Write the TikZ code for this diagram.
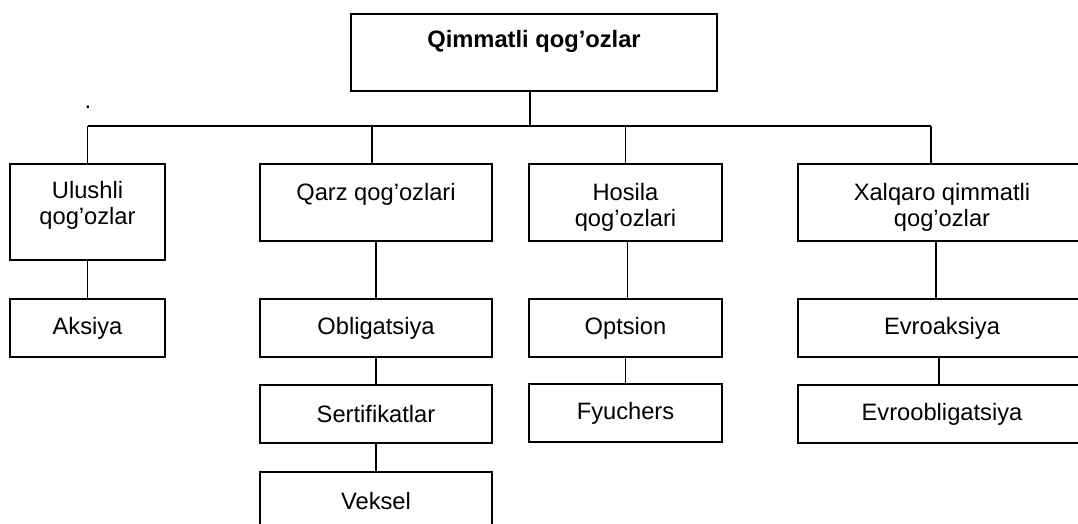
\documentclass[tikz,border=0pt]{standalone}
\usepackage{fontspec}
\setmainfont{Liberation Sans}
\begin{document}
\begin{tikzpicture}[x=1pt,y=-1pt,
  every node/.style={inner sep=0pt,outer sep=0pt,font=\fontsize{23.7}{26}\selectfont},
  box/.style={draw,line width=1.8pt,align=center},
  lvlA/.style={box,minimum height=77pt},
  lvlB/.style={box,minimum height=58pt},
  conn/.style={line width=1.8pt}]
\path[use as bounding box,clip] (0,0) rectangle (1078,524);
% top
\node[lvlA,minimum width=366pt,font=\fontsize{23.7}{26}\selectfont\bfseries] (top) at (534,52.5) {Qimmatli qog’ozlar\\[-6pt]\strut};
% level 1
\node[box,minimum width=155pt,minimum height=96pt] (ulushli) at (87.5,212) {Ulushli\\qog’ozlar\\[-16pt]\strut};
\node[lvlA,minimum width=232pt] (qarz) at (376,202.5) {Qarz qog’ozlari\\[-12pt]\strut};
\node[lvlA,minimum width=193pt] (hosila) at (625.5,202.5) {\strut\\[-17pt]Hosila\\qog’ozlari};
\node[lvlA,minimum width=288pt] (xalq) at (942,202.5) {\strut\\[-17pt]Xalqaro qimmatli\\qog’ozlar};
% level 2
\node[lvlB,minimum width=155pt] (aksiya) at (87.5,328) {Aksiya};
\node[lvlB,minimum width=232pt] (oblig) at (376,328) {Obligatsiya};
\node[lvlB,minimum width=232pt] (sert) at (376,414) {Sertifikatlar};
\node[lvlB,minimum width=232pt] (veksel) at (376,501) {Veksel};
\node[lvlB,minimum width=193pt] (optsion) at (625.5,328) {Optsion};
\node[lvlB,minimum width=193pt] (fyuchers) at (625.5,413) {Fyuchers};
\node[lvlB,minimum width=288pt] (evroaks) at (942,328) {Evroaksiya};
\node[lvlB,minimum width=288pt] (evroobl) at (942,414) {Evroobligatsiya};
% dot
\node (dot) at (88,107) {.};
% bus
\coordinate (busL) at (88,126);
\coordinate (busR) at (931,126);
\draw[conn] (busL) -- (busR);
\draw[conn] ([xshift=-4pt]top.south) -- ([xshift=-4pt]top.south |- busL);
\draw[conn] (ulushli.north) -- (ulushli.north |- busL);
\draw[conn] ([xshift=-4pt]qarz.north) -- ([xshift=-4pt]qarz.north |- busL);
\draw[conn] (hosila.north) -- (hosila.north |- busL);
\draw[conn] (xalq.north -| busR) -- (busR);
% level 2 connectors
\draw[conn] (ulushli.south) -- (aksiya.north);
\draw[conn] (qarz.south) -- (oblig.north);
\draw[conn] ([xshift=2pt]hosila.south) -- ([xshift=2pt]optsion.north);
\draw[conn] ([xshift=-6pt]xalq.south) -- ([xshift=-6pt]evroaks.north);
\draw[conn] (oblig.south) -- (sert.north);
\draw[conn] (sert.south) -- (veksel.north);
\draw[conn] (optsion.south) -- (fyuchers.north);
\draw[conn] ([xshift=-3pt]evroaks.south) -- ([xshift=-3pt]evroobl.north);
\end{tikzpicture}
\end{document}
